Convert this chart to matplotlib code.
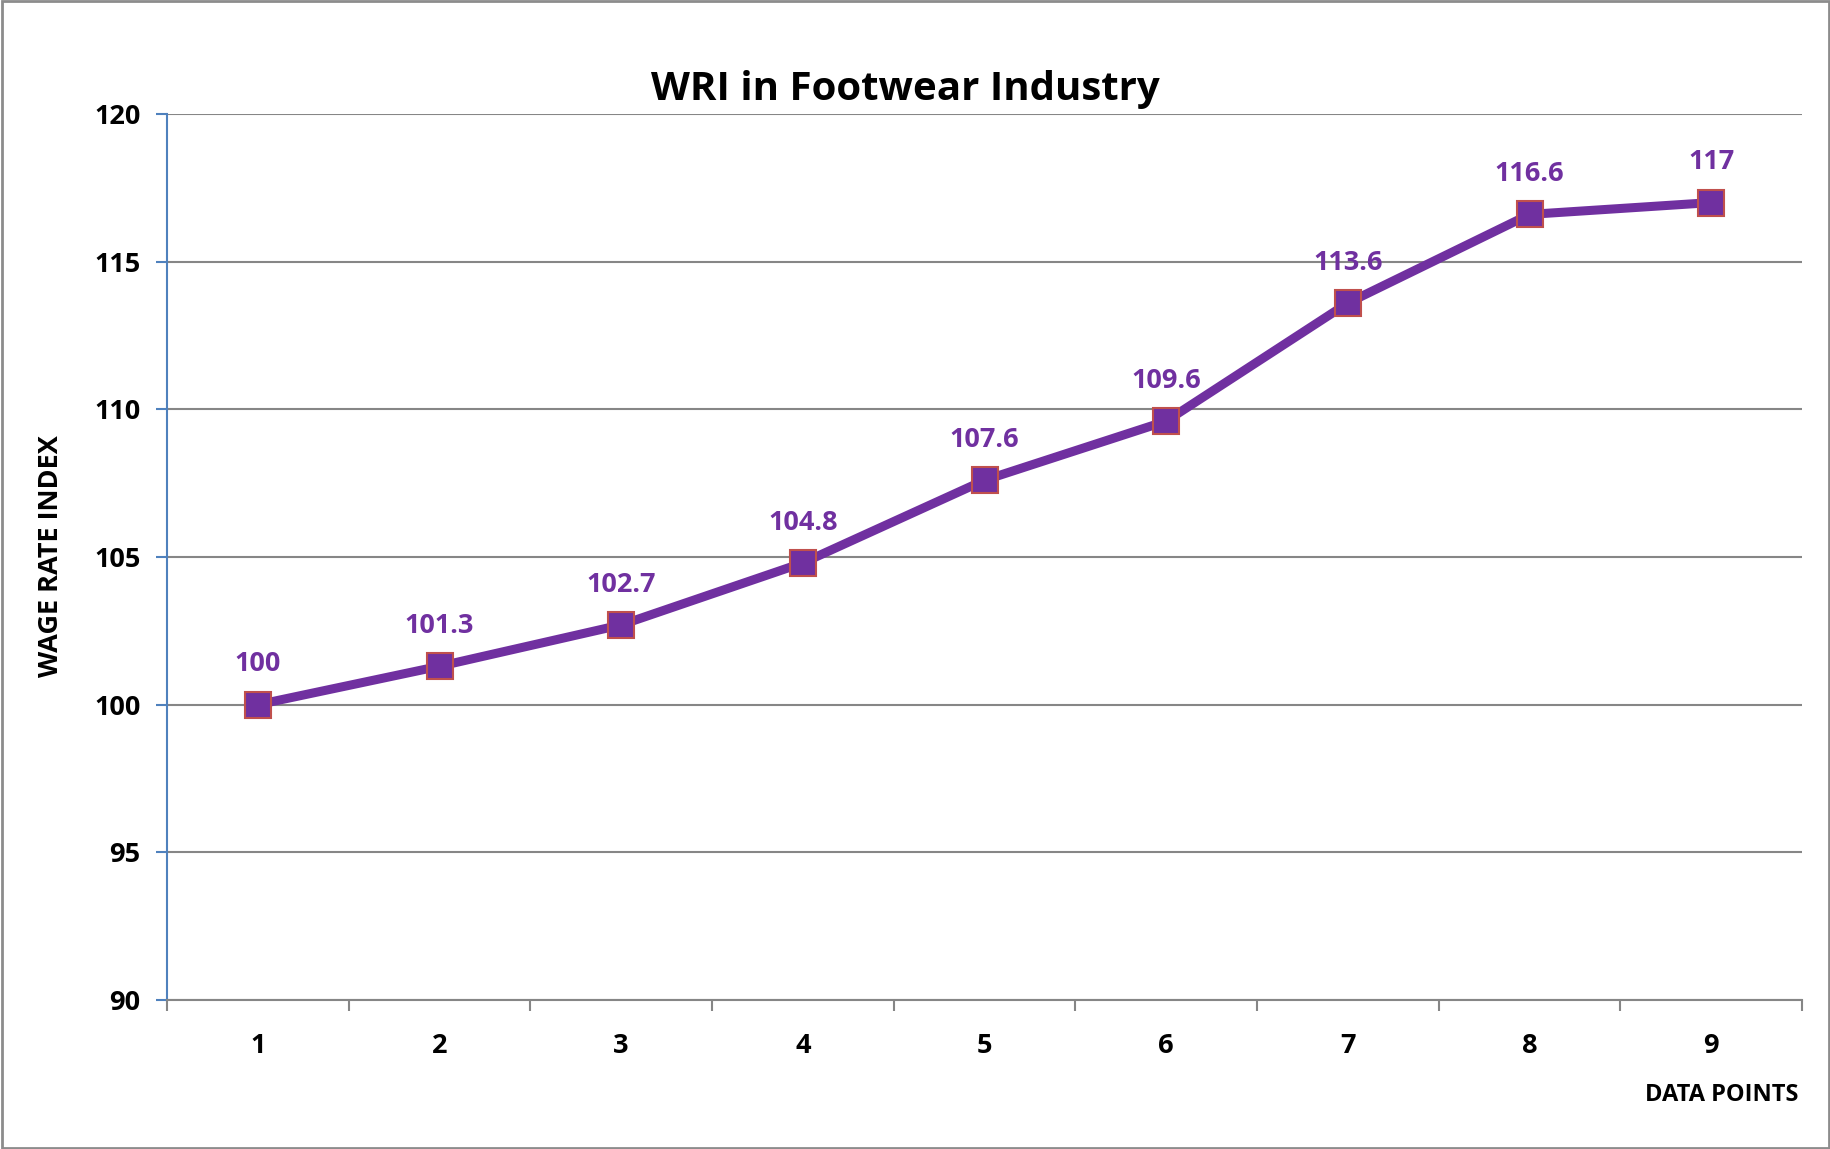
import matplotlib
matplotlib.use("Agg")
import matplotlib.pyplot as plt
from matplotlib.patches import Rectangle
import numpy as np

# Chart data
points = [1, 2, 3, 4, 5, 6, 7, 8, 9]
wri = [100, 101.3, 102.7, 104.8, 107.6, 109.6, 113.6, 116.6, 117]
labels = ["100", "101.3", "102.7", "104.8", "107.6", "109.6", "113.6", "116.6", "117"]
y_ticks = [90, 95, 100, 105, 110, 115, 120]

PURPLE = '#7030A0'
MARKER_EDGE = '#C0504D'
GRID = '#868686'
AXIS_BLUE = '#4F81BD'

plt.rcParams['font.family'] = ['Open Sans', 'DejaVu Sans']

fig = plt.figure(figsize=(18.31, 11.49), dpi=100, facecolor='white')
ax = fig.add_axes([0.0912, 0.1297, 0.893, 0.7711])

# gridlines
ax.set_ylim(90, 120)
ax.set_xlim(0.5, 9.5)
ax.set_yticks(y_ticks)
ax.yaxis.grid(True, color=GRID, linewidth=1.5, zorder=0)
ax.set_axisbelow(True)

ax.plot(points, wri, color=PURPLE, linewidth=6.5, marker='s', markersize=19,
        markerfacecolor=PURPLE, markeredgecolor=MARKER_EDGE, markeredgewidth=1.5,
        zorder=5, clip_on=False)

for x, y, lab in zip(points, wri, labels):
    ax.annotate(lab, (x, y), textcoords='offset points', xytext=(0, 29),
                ha='center', va='center', color=PURPLE, fontsize=19.5, fontweight='bold')

# x ticks: labels centred on points, tick marks between categories
ax.set_xticks(points)
ax.set_xticks(np.arange(0.5, 10, 1), minor=True)
ax.tick_params(axis='x', which='major', length=0, pad=24, labelsize=19.5)
ax.tick_params(axis='x', which='minor', length=8, width=1.5, color=GRID, direction='out')
for t in ax.get_xticklabels():
    t.set_fontweight('bold')

ax.tick_params(axis='y', length=8, width=1.5, color=AXIS_BLUE, pad=11, labelsize=19.5)
for t in ax.get_yticklabels():
    t.set_fontweight('bold')

for side in ['top', 'right']:
    ax.spines[side].set_visible(False)
ax.spines['left'].set_color(AXIS_BLUE)
ax.spines['left'].set_linewidth(1.5)
ax.spines['bottom'].set_color(GRID)
ax.spines['bottom'].set_linewidth(1.5)

fig.text(0.4946, 0.922, 'WRI in Footwear Industry', ha='center', va='center',
         fontsize=29, fontweight='bold', color='black')
fig.text(0.028, 0.516, 'WAGE RATE INDEX', rotation=90, ha='center', va='center',
         fontsize=19.5, fontweight='bold', color='black')
fig.text(0.982, 0.047, 'DATA POINTS', ha='right', va='center',
         fontsize=17, fontweight='bold', color='black')

# outer chart frame
fig.patches.append(Rectangle((0.0012, 0.0012), 0.9976, 0.9976, transform=fig.transFigure,
                             fill=False, edgecolor='#8c8c8c', linewidth=2))

fig.savefig('out.png', dpi=100, facecolor='white')
